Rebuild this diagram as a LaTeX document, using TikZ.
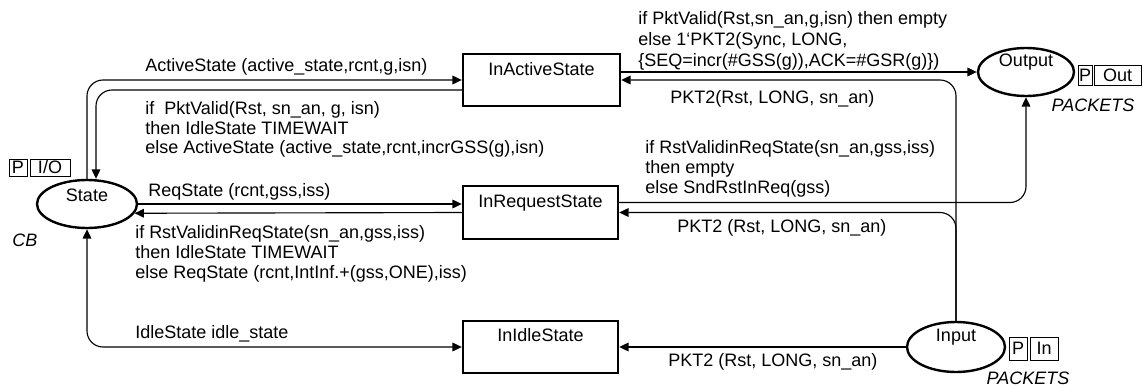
\documentclass[tikz,border=0pt]{standalone}
\usepackage{fontspec}
\setmainfont{Liberation Sans}
\usetikzlibrary{arrows.meta,calc,shapes.geometric}
\tikzset{
  cpnplace/.style={ellipse, draw, line width=1.8pt, inner sep=0pt},
  cpntrans/.style={rectangle, draw, line width=1.8pt, inner sep=0pt,
    minimum width=155*0.75pt, minimum height=52*0.75pt},
  cparc/.style={line width=0.85pt, -{Triangle[length=7pt,width=6.5pt]}, rounded corners=12pt},
  cpnbiarc/.style={line width=0.85pt, {Triangle[length=7pt,width=6.5pt]}-{Triangle[length=7pt,width=6.5pt]}, rounded corners=12pt},
  txt/.style={font=\fontsize{13.5}{15}\selectfont},
  pname/.style={txt, inner sep=0pt},
  inscr/.style={txt, anchor=north west, inner sep=0pt, align=left},
  porttag/.style={txt, draw, line width=0.6pt, inner sep=0pt},
  colset/.style={font=\fontsize{13.5}{15}\selectfont\itshape, inner sep=0pt}
}
\begin{document}
\begin{tikzpicture}[x=0.75pt,y=-0.75pt]
\useasboundingbox (0,0) rectangle (1143,389);

% places
\node[cpnplace, minimum width=100*0.75pt, minimum height=48*0.75pt] (State) at (87,204) {};
\node[pname] (StateName) at (87,195) {State};
\node[porttag, minimum width=18*0.75pt, minimum height=17*0.75pt] (StateP) at (18,167.5) {P};
\node[porttag, minimum width=40*0.75pt, minimum height=17*0.75pt] (StateIO) at (50,167.5) {I/O};
\node[colset] (StateCS) at (25,240) {CB};

\node[cpnplace, minimum width=96*0.75pt, minimum height=48*0.75pt] (Output) at (1026,72) {};
\node[pname] (OutputName) at (1026,62) {Output};
\node[porttag, minimum width=14*0.75pt, minimum height=20*0.75pt] (OutputP) at (1085,75) {P};
\node[porttag, minimum width=47*0.75pt, minimum height=20*0.75pt] (OutputOut) at (1117.5,75) {Out};
\node[colset] (OutputCS) at (1093,105) {PACKETS};

\node[cpnplace, minimum width=98*0.75pt, minimum height=50*0.75pt] (Input) at (956,347) {};
\node[pname] (InputName) at (956,337) {Input};
\node[porttag, minimum width=18*0.75pt, minimum height=23*0.75pt] (InputP) at (1018,348.5) {P};
\node[porttag, minimum width=28*0.75pt, minimum height=23*0.75pt] (InputIn) at (1044,348.5) {In};
\node[colset] (InputCS) at (1028,378) {PACKETS};

% transitions
\node[cpntrans, minimum width=157*0.75pt] (InActive) at (541.5,80) {};
\node[pname] (InActiveName) at (541.5,69) {InActiveState};
\node[cpntrans, minimum height=53*0.75pt] (InReq) at (540.5,212.5) {};
\node[pname] (InReqName) at (540.5,203) {InRequestState};
\node[cpntrans] (InIdle) at (540.5,347) {};
\node[pname] (InIdleName) at (540.5,335) {InIdleState};

% arcs between State and the transitions
\draw[cparc] (State.north) |- (InActive.west);
\draw[cparc] ($(InActive.west)+(0,10)$) -| ($(State.north)+(9,0)$);
\draw[cparc] (State.east) -- (State.east -| InReq.west);
\draw[cparc] (InReq.west) -- (State.-11);
\draw[cpnbiarc] (State.south) |- (InIdle.west);

% arcs to and from the ports
\draw[cparc] ($(InActive.east)+(0,-8)$) -- (Output.west);
\draw[cparc] (Input.north) |- (InActive.east);
\draw[cparc] (Input.north) |- (InReq.east);
\draw[cparc] ($(InReq.east)+(0,-10)$) -| (Output.south);
\draw[cparc] (Input.west) -- (InIdle.east);

% arc inscriptions
\node[inscr] (i1) at (145,58.5) {ActiveState (active\_state,rcnt,g,isn)};
\node[inscr, font=\fontsize{13.5}{14.6}\selectfont] (i2) at (145,101.5)
  {if\ \ PktValid(Rst, sn\_an, g, isn)\\then IdleState TIMEWAIT\\else ActiveState (active\_state,rcnt,incrGSS(g),isn)};
\node[inscr, font=\fontsize{13.5}{15.75}\selectfont] (i3) at (638,11.5)
  {if PktValid(Rst,sn\_an,g,isn) then empty\\else 1‘PKT2(Sync, LONG,\\\{SEQ=incr(\#GSS(g)),ACK=\#GSR(g)\})};
\node[inscr] (i4) at (670,90.5) {PKT2(Rst, LONG, sn\_an)};
\node[inscr] (i5) at (645,140.5)
  {if RstValidinReqState(sn\_an,gss,iss)\\then empty\\else SndRstInReq(gss)};
\node[inscr] (i6) at (148,183.5) {ReqState (rcnt,gss,iss)};
\node[inscr] (i7) at (135,225.5)
  {if RstValidinReqState(sn\_an,gss,iss)\\then IdleState TIMEWAIT\\else ReqState (rcnt,IntInf.+(gss,ONE),iss)};
\node[inscr] (i8) at (677,219.5) {PKT2 (Rst, LONG, sn\_an)};
\node[inscr] (i9) at (135,325.5) {IdleState idle\_state};
\node[inscr] (i10) at (668,353.5) {PKT2 (Rst, LONG, sn\_an)};
\end{tikzpicture}
\end{document}
